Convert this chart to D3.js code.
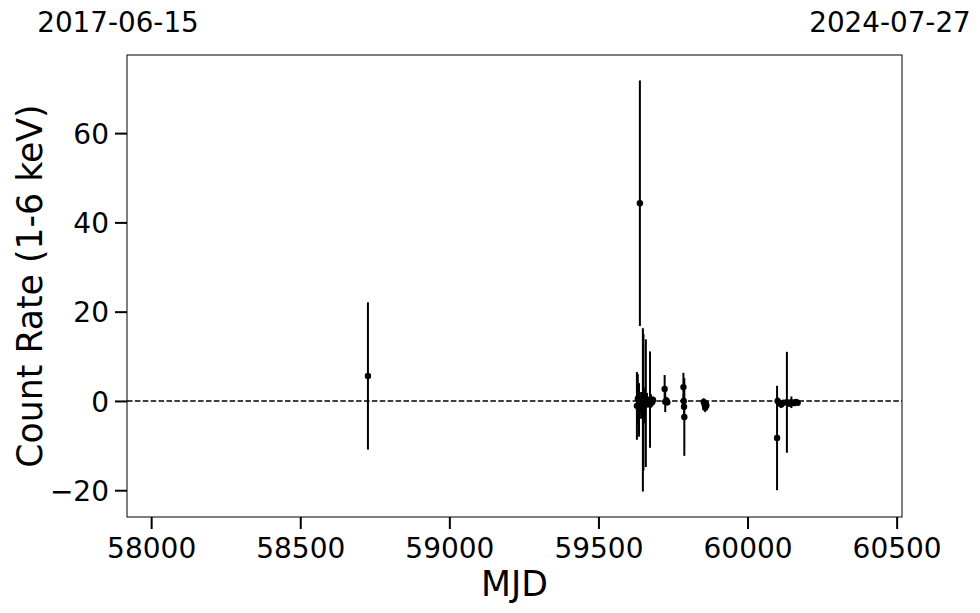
<!DOCTYPE html>
<html>
<head>
<meta charset="utf-8">
<script src="https://cdn.jsdelivr.net/npm/d3@7"></script>
<style>
  body { margin: 0; background: #fff; }
  svg { display: block; font-family: "DejaVu Sans", sans-serif; }
</style>
</head>
<body>
<svg id="chart" width="980" height="613"></svg>
<script>
// ---- data ----
const mjd  = [58727, 59629, 59632, 59636, 59639, 59643, 59646, 59649, 59651, 59653, 59656, 59659, 59663, 59666, 59673, 59676, 59680, 59683,
              59722, 59724, 59728, 59731, 59785, 59786, 59787, 59788,
              59853, 59856, 59858, 59860, 59862,
              60099, 60101, 60108, 60113, 60120, 60132, 60140, 60147, 60155, 60162, 60168];
const rate = [5.6, -1.1, 0.5, -2.0, 44.3, -1.0, 0.0, -2.0, -0.3, -1.0, 0.0, -0.5, 0.3, -0.5, 0.3, 0.0, -0.3, 0.2,
              2.7, -0.2, 0.1, -0.3, 3.1, 0.0, -1.3, -3.6,
              -0.2, -0.8, -1.5, -0.6, -1.0,
              -8.3, 0.0, -0.5, -0.8, -0.4, -0.3, -0.6, -0.3, -0.5, -0.2, -0.4];
const err  = [16.5, 7.6, 5.5, 6.0, 27.5, 3.0, 2.0, 18.3, 15.3, 4.0, 2.5, 14.3, 1.5, 1.0, 10.8, 1.5, 1.0, 0.8,
              3.1, 2.3, 0.8, 0.7, 3.2, 1.5, 2.0, 8.7,
              0.8, 1.0, 1.0, 0.7, 0.8,
              11.7, 0.8, 0.6, 0.8, 0.5, 11.3, 0.7, 1.3, 0.5, 0.4, 0.3];
const xDomain = [57919, 60518];           // 2017-06-15 .. 2024-07-27
const yDomain = [-26, 77.5];
const xTicks = [58000, 58500, 59000, 59500, 60000, 60500];
const yTicks = [-20, 0, 20, 40, 60];
const dateLabels = ["2017-06-15", "2024-07-27"];
const xLabel = "MJD";
const yLabel = "Count Rate (1-6 keV)";

// ---- layout ----
const W = 980, H = 613;
const m = { left: 127, top: 55, right: 902, bottom: 517 };
const svg = d3.select("#chart");

const x = d3.scaleLinear().domain(xDomain).range([m.left, m.right]);
const y = d3.scaleLinear().domain(yDomain).range([m.bottom, m.top]);

const pts = mjd.map((d, i) => ({ x: d, y: rate[i], e: err[i] }));

// zero dashed line
svg.append("line")
  .attr("x1", m.left).attr("x2", m.right)
  .attr("y1", y(0)).attr("y2", y(0))
  .attr("stroke", "#000").attr("stroke-width", 1.5)
  .attr("stroke-dasharray", "5.5,2.4");

// error bars
const g = svg.append("g");
g.selectAll("line.err").data(pts).join("line")
  .attr("class", "err")
  .attr("x1", d => x(d.x)).attr("x2", d => x(d.x))
  .attr("y1", d => y(d.y - d.e)).attr("y2", d => y(d.y + d.e))
  .attr("stroke", "#000").attr("stroke-width", 2);

g.selectAll("circle").data(pts).join("circle")
  .attr("cx", d => x(d.x)).attr("cy", d => y(d.y))
  .attr("r", 3.2).attr("fill", "#000");

// frame
svg.append("rect")
  .attr("x", m.left).attr("y", m.top)
  .attr("width", m.right - m.left).attr("height", m.bottom - m.top)
  .attr("fill", "none").attr("stroke", "#000").attr("stroke-width", 1);

// axes
const fmt = d => d < 0 ? "\u2212" + Math.abs(d) : String(d);
const xAxis = svg.append("g").attr("transform", `translate(0,${m.bottom})`)
  .call(d3.axisBottom(x).tickValues(xTicks).tickFormat(d3.format("d")).tickSize(12).tickPadding(8));
const yAxis = svg.append("g").attr("transform", `translate(${m.left},0)`)
  .call(d3.axisLeft(y).tickValues(yTicks).tickFormat(fmt).tickSize(12).tickPadding(6));
[xAxis, yAxis].forEach(a => {
  a.select(".domain").remove();
  a.selectAll(".tick line").attr("stroke", "#000").attr("stroke-width", 2);
  a.selectAll(".tick text").attr("fill", "#000")
    .style("font-family", "'DejaVu Sans', sans-serif").style("font-size", "28px");
});
xAxis.selectAll(".tick text").attr("dy", null).attr("y", 41);
yAxis.selectAll(".tick text").attr("dy", "0.36em");

// axis labels
svg.append("text")
  .attr("x", (m.left + m.right) / 2).attr("y", 596)
  .attr("text-anchor", "middle").style("font-size", "34.7px").text(xLabel);
svg.append("text")
  .attr("transform", `translate(42,${(m.top + m.bottom) / 2}) rotate(-90)`)
  .attr("text-anchor", "middle").style("font-size", "34.7px").text(yLabel);

// top date labels
svg.append("text").attr("x", m.left - 9).attr("y", 32)
  .attr("text-anchor", "middle").style("font-size", "27.8px").text(dateLabels[0]);
svg.append("text").attr("x", m.right - 12).attr("y", 32)
  .attr("text-anchor", "middle").style("font-size", "27.8px").text(dateLabels[1]);
</script>
</body>
</html>
